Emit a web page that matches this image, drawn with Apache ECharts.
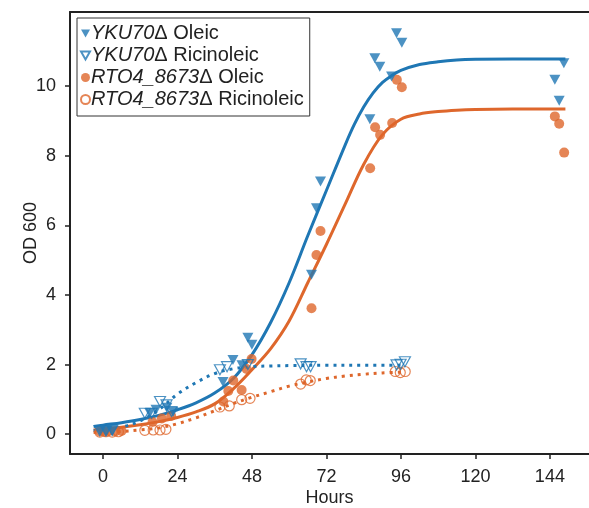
<!DOCTYPE html>
<html>
<head>
<meta charset="utf-8">
<script src="https://cdn.jsdelivr.net/npm/echarts@6/dist/echarts.min.js"></script>
<style>html,body{margin:0;padding:0;background:#fff}#c{width:589px;height:508px}</style>
</head>
<body>
<div id="c"></div>
<script>
// ---- data (hours, OD600) ----
var xTicks = [0, 24, 48, 72, 96, 120, 144];
var yTicks = [0, 2, 4, 6, 8, 10];

var yku70OleicPts = [[-1,0.12],[1,0.1],[3,0.1],[15.1,0.61],[17.1,0.70],[20.6,0.76],[22.6,0.64],
  [38.7,1.50],[41.9,2.13],[44.8,1.98],[46.7,2.77],[48,2.57],
  [67.2,4.58],[68.8,6.49],[70.1,7.26],
  [86,9.05],[87.6,10.8],[89.2,10.56],[93,10.28],[94.6,11.52],[96.3,11.25],
  [145.6,10.18],[147,9.58],[148.5,10.66]];
var yku70RicPts = [[-1,0.1],[1,0.09],[3,0.11],[13.5,0.6],[15.7,0.6],[18.4,0.94],[20.5,0.84],[22.1,0.65],
  [37.7,1.85],[40,1.94],[46.7,2.0],
  [63.7,2.02],[65.6,1.94],[66.9,1.94],
  [94.6,1.99],[95.9,2.01],[97.3,2.08]];
var rto4OleicPts = [[-1,0.08],[0.5,0.07],[2,0.09],[4,0.08],[6,0.09],[16,0.35],[19,0.45],[22,0.52],
  [38.8,0.94],[40.4,1.24],[42,1.54],[44.7,1.27],[46.3,1.87],[47.9,2.16],
  [67.2,3.62],[68.8,5.15],[70.1,5.84],
  [86.1,7.64],[87.7,8.82],[89.3,8.6],[93.2,8.94],[94.7,10.18],[96.3,9.97],
  [145.6,9.13],[147,8.92],[148.6,8.09]];
var rto4RicPts = [[-1,0.06],[1,0.07],[3,0.06],[5,0.07],[13.5,0.11],[16.2,0.12],[18.4,0.12],[20.3,0.14],
  [37.7,0.78],[40.7,0.81],[44.7,0.99],[47.4,1.03],
  [63.7,1.44],[65.5,1.56],[66.8,1.54],
  [94.2,1.8],[95.8,1.77],[97.4,1.8]];

// fitted curves
var yku70OleicFit = [[-3,0.22],[0,0.26],[6,0.33],[12,0.42],[18,0.54],[24,0.70],[30,0.90],[36,1.18],[42,1.6],[48,2.28],
  [54,3.2],[60,4.35],[66,5.70],[72,7.00],[78,8.30],[81,8.9],[84,9.4],[87,9.8],[90,10.1],[93,10.3],[96,10.45],
  [102,10.62],[108,10.70],[114,10.75],[120,10.77],[132,10.78],[149,10.78]];
var rto4OleicFit = [[-3,0.12],[0,0.15],[6,0.2],[12,0.27],[18,0.36],[24,0.48],[30,0.64],[36,0.87],[42,1.3],[48,1.85],
  [54,2.45],[60,3.25],[66,4.35],[72,5.45],[78,6.6],[84,7.75],[90,8.6],[96,9.05],[102,9.2],[108,9.27],[114,9.31],
  [120,9.33],[132,9.34],[149,9.34]];
var yku70RicFit = [[-3,0.1],[0,0.12],[6,0.2],[12,0.38],[18,0.7],[24,1.15],[30,1.48],[36,1.74],[42,1.88],[48,1.94],
  [54,1.96],[60,1.97],[72,1.98],[84,1.98],[97,1.98]];
var rto4RicFit = [[-3,0.05],[0,0.06],[6,0.08],[12,0.12],[18,0.18],[24,0.3],[30,0.47],[36,0.67],[42,0.88],[48,1.06],
  [54,1.22],[60,1.38],[66,1.5],[72,1.6],[78,1.67],[84,1.72],[90,1.76],[97,1.78]];

var names = ['YKU70\u0394 Oleic','YKU70\u0394 Ricinoleic','RTO4_8673\u0394 Oleic','RTO4_8673\u0394 Ricinoleic'];
var BLUE = '#1f77b4', ORANGE = '#de672c', INK = '#222';
var FONT = '"Liberation Sans", Arial, sans-serif';
var DOWN_TRI = 'path://M0,0 L10,0 L5,9 Z';

function lineSeries(data, color, dotted) {
  return {type:'line', data:data, smooth:0.35, showSymbol:false, silent:true, z:2,
    lineStyle:{color:color, width:3, type: dotted ? [3,5] : 'solid', cap:'butt'}};
}
function scatter(name, data, color, tri, open) {
  return {type:'scatter', name:name, data:data, z:3,
    symbol: tri ? DOWN_TRI : 'circle',
    symbolSize: tri ? [11,10] : 10,
    itemStyle: open ? {color:'rgba(255,255,255,0)', borderColor:color, borderWidth:1.2} : {color:color}};
}

var chart = echarts.init(document.getElementById('c'), null, {renderer:'canvas'});
chart.setOption({
  animation:false,
  backgroundColor:'#fff',
  textStyle:{fontFamily:FONT},
  grid:{left:70, top:12, right:0, bottom:54, containLabel:false, outerBoundsMode:'none'},
  legend:{
    data:[{name:names[0], icon:DOWN_TRI},{name:names[1], icon:DOWN_TRI},{name:names[2], icon:'circle'},{name:names[3], icon:'circle'}],
    orient:'vertical', left:77, top:18,
    backgroundColor:'#fff', borderColor:'#333', borderWidth:1,
    padding:[5,6,6,3], itemGap:1, itemWidth:9, itemHeight:9,
    textStyle:{fontSize:20, color:INK, fontFamily:FONT, lineHeight:21, padding:[0,0,0,-4],
      rich:{i:{fontStyle:'italic', fontSize:20, color:INK, fontFamily:FONT, lineHeight:21}}},
    formatter:function(n){ var p=n.split('\u0394'); return '{i|'+p[0]+'}\u0394'+p[1]; }
  },
  xAxis:[{
    type:'value', min:-10.6, max:156.6, position:'bottom',
    name:'Hours', nameLocation:'middle', nameGap:35, nameMoveOverlap:false,
    nameTextStyle:{fontSize:18, color:INK, fontFamily:FONT},
    axisLine:{show:true, onZero:false, lineStyle:{color:INK, width:2}},
    axisTick:{show:true, length:5, lineStyle:{color:INK, width:1.5}, customValues:xTicks},
    axisLabel:{fontSize:18, color:INK, margin:14, fontFamily:FONT, customValues:xTicks},
    splitLine:{show:false}
  },{
    type:'value', min:-10.6, max:156.6, position:'top',
    axisLine:{show:true, onZero:false, lineStyle:{color:INK, width:2}},
    axisTick:{show:false}, axisLabel:{show:false}, splitLine:{show:false}
  }],
  yAxis:{
    type:'value', min:-0.57, max:12.13,
    name:'OD 600', nameLocation:'middle', nameGap:30, nameMoveOverlap:false,
    nameTextStyle:{fontSize:18, color:INK, fontFamily:FONT},
    axisLine:{show:true, onZero:false, lineStyle:{color:INK, width:2}},
    axisTick:{show:true, length:5, lineStyle:{color:INK, width:1.5}, customValues:yTicks},
    axisLabel:{fontSize:18, color:INK, margin:14, fontFamily:FONT, customValues:yTicks},
    splitLine:{show:false}
  },
  series:[
    lineSeries(yku70OleicFit, BLUE, false),
    lineSeries(rto4OleicFit, ORANGE, false),
    lineSeries(yku70RicFit, BLUE, true),
    lineSeries(rto4RicFit, ORANGE, true),
    scatter(names[2], rto4OleicPts, ORANGE, false, false),
    scatter(names[3], rto4RicPts, ORANGE, false, true),
    scatter(names[0], yku70OleicPts, BLUE, true, false),
    scatter(names[1], yku70RicPts, BLUE, true, true)
  ]
});
</script>
</body>
</html>
